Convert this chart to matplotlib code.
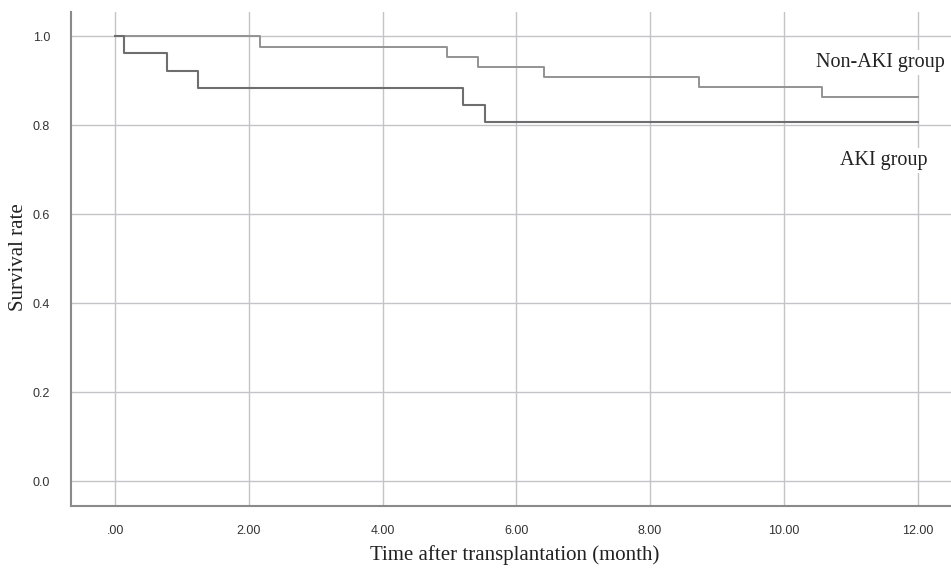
import numpy as np
import matplotlib
matplotlib.use('Agg')
import matplotlib.pyplot as plt

# Kaplan-Meier step points (month, survival)
aki_t = [0.0, 0.13, 0.78, 1.24, 5.20, 5.53, 12.0]
aki_s = [1.0, 0.961, 0.922, 0.883, 0.845, 0.806, 0.806]

non_aki_t = [0.0, 2.17, 4.96, 5.43, 6.41, 8.73, 10.57, 12.0]
non_aki_s = [1.0, 0.976, 0.953, 0.931, 0.908, 0.885, 0.862, 0.862]

x_ticks = [0, 2, 4, 6, 8, 10, 12]
x_labels = ['.00', '2.00', '4.00', '6.00', '8.00', '10.00', '12.00']
y_ticks = [0.0, 0.2, 0.4, 0.6, 0.8, 1.0]

fig = plt.figure(figsize=(9.51, 5.70), dpi=100)
ax = fig.add_axes([71/951, 64/570, 1 - 71/951, (506-12)/570])

ax.set_xlim(-0.66, 12.5)
ax.set_ylim(-0.056, 1.054)

ax.set_xticks(x_ticks)
ax.set_xticklabels(x_labels, fontsize=9, color='#333333', family=['Liberation Sans Narrow', 'Liberation Sans'])
ax.set_yticks(y_ticks)
ax.set_yticklabels(['%.1f' % v for v in y_ticks], fontsize=9, color='#333333', family='Liberation Sans')
ax.tick_params(axis='x', length=0, pad=14)
ax.tick_params(axis='y', length=0, pad=15)

ax.grid(True, color='#c4c4c8', linewidth=1.0)
ax.set_axisbelow(True)

for side in ['top', 'right']:
    ax.spines[side].set_visible(False)
for side in ['left', 'bottom']:
    ax.spines[side].set_color('#8a8a8a')
    ax.spines[side].set_linewidth(1.5)

ax.plot(non_aki_t, non_aki_s, drawstyle='steps-post', color='#939393', linewidth=1.4)
ax.plot(aki_t, aki_s, drawstyle='steps-post', color='#6e6e6e', linewidth=1.5)

ax.text(11.45, 0.94, 'Non-AKI group', family='Liberation Serif', fontsize=14.5,
        ha='center', va='center', color='#222222',
        bbox=dict(facecolor='white', edgecolor='none', pad=2))
ax.text(11.5, 0.72, 'AKI group', family='Liberation Serif', fontsize=14.5,
        ha='center', va='center', color='#222222',
        bbox=dict(facecolor='white', edgecolor='none', pad=2))

ax.set_xlabel('Time after transplantation (month)', family='Liberation Serif',
              fontsize=15, color='#222222')
ax.set_ylabel('Survival rate', family='Liberation Serif', fontsize=15,
              color='#222222')
ax.xaxis.set_label_coords((515 - 71) / 880, -(555 - 506) / 494)
ax.yaxis.set_label_coords(-(71 - 19) / 880, (506 - 257) / 494)
ax.xaxis.label.set_va('center')
ax.yaxis.label.set_va('center')

fig.savefig('out.png', dpi=100)
